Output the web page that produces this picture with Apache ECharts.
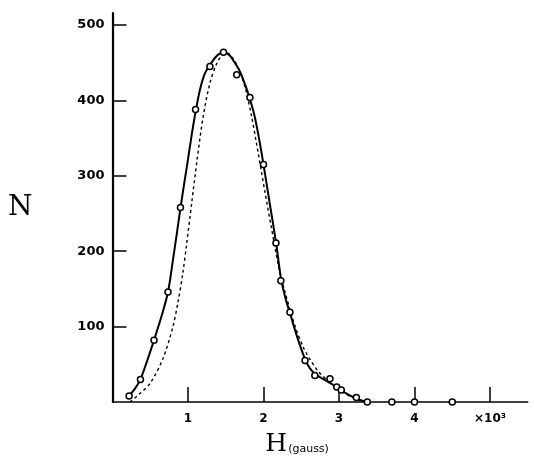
<!DOCTYPE html>
<html>
<head>
<meta charset="utf-8">
<script src="https://cdn.jsdelivr.net/npm/echarts@6/dist/echarts.min.js"></script>
<style>html,body{margin:0;padding:0;background:#fff}#c{width:534px;height:466px}</style>
</head>
<body>
<div id="c"></div>
<script>
// Measured points (H in 10^3 gauss, N)
const measuredH = [0.22,0.37,0.55,0.735,0.90,1.10,1.29,1.47,1.645,1.82,2.0,2.165,2.23,2.35,2.55,2.68,2.88,2.97,3.03,3.23,3.375,3.70,4.0,4.5];
const measuredN = [8,30,82,146,258,388,445,464,434,404,315,211,161,119,55,35,31,20,16,6,0,0,0,0];
const curveH = [0.22,0.3,0.37,0.45,0.55,0.65,0.735,0.8,0.85,0.9,0.95,1.0,1.05,1.106,1.16,1.22,1.29,1.38,1.47,1.55,1.62,1.69,1.76,1.82,1.88,1.94,2.0,2.08,2.165,2.23,2.29,2.35,2.45,2.55,2.62,2.7,2.8,2.9,3.0,3.1,3.2,3.3,3.375];
const curveN = [8,18,30,52,82,114,146,188,222,257,290,322,355,388,415,435,447,459,464,460,450,438,420,402,380,350,315,265,212,165,138,118,85,57,44,36,30,24,18,11,6,2,0];
// Theoretical (dashed) curve
const theoryH = [0.23,0.35,0.5,0.67,0.8,0.87,0.93,0.98,1.05,1.12,1.2,1.29,1.38,1.46,1.52,1.6,1.68,1.76,1.84,1.93,2.02,2.1,2.2,2.29,2.42,2.53,2.62,2.73,2.88,3.05,3.2,3.35];
const theoryN = [0,10,25,58,100,134,170,208,265,321,378,423,449,461,463,455,440,416,380,330,278,234,180,144,100,72,56,40,26,13,5,0];
const xTicks = [1,2,3,4,5];
const xTickLabels = ['1','2','3','4','×10³'];
const yTicks = [100,200,300,400,500];

const chart = echarts.init(document.getElementById('c'));
chart.setOption({
  animation: false,
  backgroundColor: '#fff',
  grid: {left: 112.5, top: 13, width: 415.25, height: 389},
  xAxis: {
    type: 'value', min: 0, max: 5.5,
    axisLine: {lineStyle: {color: '#000', width: 1.5}},
    splitLine: {show: false},
    axisTick: {inside: true, length: 15, lineStyle: {color: '#000', width: 1.5}, customValues: xTicks},
    axisLabel: {
      customValues: xTicks, margin: 11,
      formatter: v => xTickLabels[xTicks.indexOf(v)] || '',
      color: '#000', fontFamily: 'DejaVu Sans', fontWeight: 'bold', fontSize: 12
    },
    name: '{h|H}{g|(gauss)}', nameLocation: 'middle', nameGap: 30,
    nameTextStyle: {
      padding: [0, 46, 0, 0],
      rich: {
        h: {fontFamily: 'DejaVu Serif', fontSize: 25, color: '#000', verticalAlign: 'bottom'},
        g: {fontFamily: 'DejaVu Sans', fontSize: 11, color: '#000', verticalAlign: 'bottom', padding: [0,0,2,1]}
      }
    }
  },
  yAxis: {
    type: 'value', min: 0, max: 516,
    axisLine: {show: true, lineStyle: {color: '#000', width: 2.2}},
    splitLine: {show: false},
    axisTick: {show: true, inside: true, length: 14, lineStyle: {color: '#000', width: 1.5}, customValues: yTicks},
    axisLabel: {
      customValues: yTicks, margin: 8,
      color: '#000', fontFamily: 'DejaVu Sans', fontWeight: 'bold', fontSize: 13
    },
    name: 'N', nameLocation: 'middle', nameGap: 80, nameRotate: 0,
    nameTextStyle: {fontFamily: 'DejaVu Serif', fontSize: 28, color: '#000', padding: [0,0,14,0]}
  },
  series: [
    {
      type: 'line', data: theoryH.map((h, i) => [h, theoryN[i]]),
      smooth: 0.3, showSymbol: false, symbol: 'none',
      lineStyle: {color: '#000', width: 1.4, type: [3, 3]}, z: 2
    },
    {
      type: 'line', data: curveH.map((h, i) => [h, curveN[i]]),
      smooth: 0.3, showSymbol: false, symbol: 'none',
      lineStyle: {color: '#000', width: 2}, z: 3
    },
    {
      type: 'scatter', data: measuredH.map((h, i) => [h, measuredN[i]]),
      symbol: 'circle', symbolSize: 6,
      itemStyle: {color: '#fff', borderColor: '#000', borderWidth: 1.5, opacity: 1}, z: 4
    }
  ]
});
</script>
</body>
</html>
